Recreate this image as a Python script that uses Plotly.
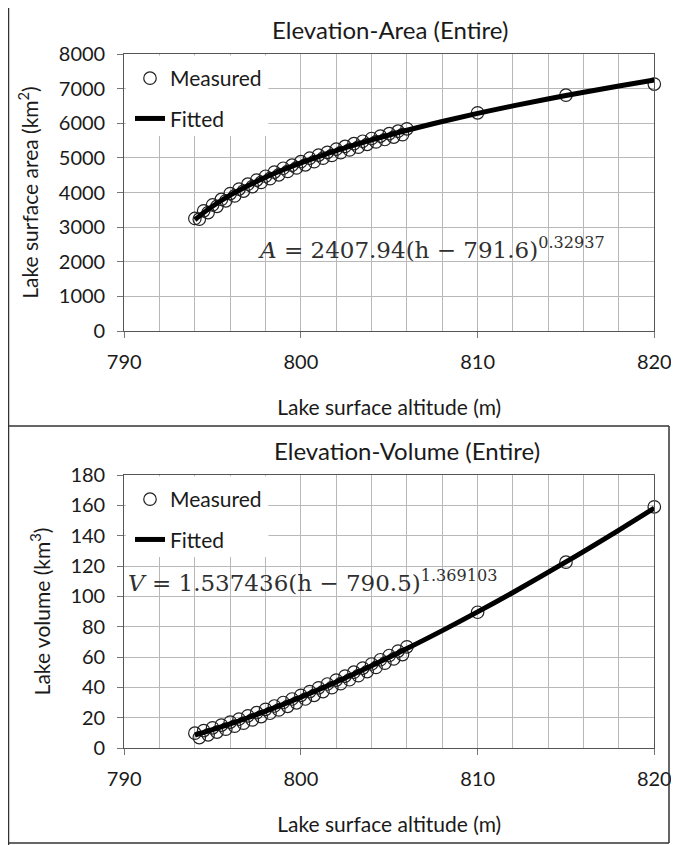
import plotly.graph_objects as go

# ---------------- data ----------------
# Elevation-Area (top panel)
area_meas_h = [794.0, 794.25, 794.5, 794.75, 795.0, 795.25, 795.5, 795.75, 796.0, 796.25,
               796.5, 796.75, 797.0, 797.25, 797.5, 797.75, 798.0, 798.25, 798.5, 798.75,
               799.0, 799.25, 799.5, 799.75, 800.0, 800.25, 800.5, 800.75, 801.0, 801.25,
               801.5, 801.75, 802.0, 802.25, 802.5, 802.75, 803.0, 803.25, 803.5, 803.75,
               804.0, 804.25, 804.5, 804.75, 805.0, 805.25, 805.5, 805.75, 806.0,
               810.0, 815.0, 820.0]
area_meas = [3250, 3230, 3470, 3420, 3640, 3600, 3800, 3760, 3970, 3900,
             4100, 4040, 4240, 4170, 4360, 4290, 4470, 4400, 4590, 4510,
             4700, 4610, 4790, 4710, 4890, 4800, 4990, 4890, 5080, 4990,
             5160, 5070, 5250, 5150, 5330, 5230, 5410, 5310, 5480, 5390,
             5560, 5460, 5630, 5530, 5700, 5600, 5770, 5670, 5840,
             6300, 6810, 7130]
area_fit_h = [794, 794.5, 795, 796, 797, 798, 799, 800, 801, 802, 803, 804, 805, 806,
              808, 810, 812, 815, 818, 820]
area_fit = [3213, 3419, 3603, 3923, 4196, 4438, 4656, 4854, 5037, 5208, 5367, 5518, 5661, 5797,
            6050, 6284, 6501, 6802, 7077, 7250]

# Elevation-Volume (bottom panel)
vol_meas_h = area_meas_h
vol_meas = [9.8, 6.9, 11.5, 8.7, 13.3, 10.5, 15.1, 12.4, 17.1, 14.4,
            19.1, 16.4, 21.2, 18.5, 23.3, 20.7, 25.5, 22.9, 27.7, 25.1,
            30.0, 27.5, 32.3, 29.8, 34.7, 32.3, 37.2, 34.7, 39.7, 37.2,
            42.2, 39.8, 44.8, 42.4, 47.4, 45.0, 50.0, 47.7, 52.7, 50.4,
            55.4, 53.1, 58.2, 55.9, 61.0, 58.7, 63.9, 61.6, 66.7,
            89.5, 122.5, 159.0]
vol_fit_h = area_fit_h
vol_fit = [8.55, 10.26, 12.05, 15.86, 19.94, 24.26, 28.79, 33.53, 38.45, 43.55, 48.81, 54.24,
           59.82, 65.54, 77.38, 89.73, 102.56, 122.67, 143.69, 158.19]

x_ticks = [790, 800, 810, 820]
x_minor = [792, 794, 796, 798, 802, 804, 806, 808, 812, 814, 816, 818]
area_ticks = [0, 1000, 2000, 3000, 4000, 5000, 6000, 7000, 8000]
vol_ticks = [0, 20, 40, 60, 80, 100, 120, 140, 160, 180]

titles = ["Elevation-Area (Entire)", "Elevation-Volume (Entire)"]
x_title = "Lake surface altitude (m)"
y_titles = ["Lake surface area (km<sup>2</sup>)", "Lake volume (km<sup>3</sup>)"]
equations = ["<i>A</i> = 2407.94(h − 791.6)<sup>0.32937</sup>",
             "<i>V</i> = 1.537436(h − 790.5)<sup>1.369103</sup>"]

# ---------------- figure ----------------
# the page adds an 8 px body margin, so the figure is 8 px smaller and
# all target-pixel positions are shifted by 8 px
OFF = 8
W, H = 679 - OFF, 845 - OFF
SANS = "Lato"
TXT = "#1a1a1a"
GRID = "#b8b8b8"


def px(x):
    return (x - OFF) / W


def py(y):
    return 1 - (y - OFF) / H


fig = go.Figure()

marker = dict(symbol="circle-open", size=12.5, color="#222222", line=dict(width=1.2))

fig.add_trace(go.Scatter(x=area_meas_h, y=area_meas, mode="markers", name="Measured",
                         marker=marker, xaxis="x", yaxis="y", legend="legend",
                         legendgroup="m1", cliponaxis=False))
fig.add_trace(go.Scatter(x=area_fit_h, y=area_fit, mode="lines", name="Fitted",
                         line=dict(color="black", width=5, shape="spline"),
                         xaxis="x", yaxis="y", legend="legend", legendgroup="f1"))
fig.add_trace(go.Scatter(x=vol_meas_h, y=vol_meas, mode="markers", name="Measured",
                         marker=marker, xaxis="x2", yaxis="y2", legend="legend2",
                         legendgroup="m2", cliponaxis=False))
fig.add_trace(go.Scatter(x=vol_fit_h, y=vol_fit, mode="lines", name="Fitted",
                         line=dict(color="black", width=5, shape="spline"),
                         xaxis="x2", yaxis="y2", legend="legend2", legendgroup="f2"))

plot_x = [px(124.2), px(654.3)]
top_y = [py(331), py(54)]
bot_y = [py(748), py(475)]


def xaxis(domain, anchor):
    return dict(domain=domain, anchor=anchor, range=[790, 820], tickmode="array",
                tickvals=x_ticks, ticks="outside", ticklen=6, tickcolor="#777",
                ticklabelstandoff=7,
                showgrid=True, gridcolor=GRID, gridwidth=1,
                minor=dict(tickmode="array", tickvals=x_minor, showgrid=True,
                           gridcolor=GRID, gridwidth=1, ticks=""),
                showline=True, linecolor="#555", linewidth=1, mirror=True,
                zeroline=False, automargin=False,
                tickfont=dict(family=SANS, size=20, color=TXT),
                title=dict(text=x_title, font=dict(family=SANS, size=21, color=TXT),
                           standoff=28))


def yaxis(domain, anchor, rng, ticks, title):
    return dict(domain=domain, anchor=anchor, range=rng, tickmode="array", tickvals=ticks,
                ticks="outside", ticklen=6, tickcolor="#777",
                ticklabelstandoff=8,
                showgrid=True, gridcolor=GRID, gridwidth=1,
                showline=True, linecolor="#555", linewidth=1, mirror=True,
                zeroline=False, automargin=False,
                tickfont=dict(family=SANS, size=20, color=TXT),
                title=dict(text=title, font=dict(family=SANS, size=21, color=TXT),
                           standoff=14))


fig.update_layout(
    width=W, height=H,
    margin=dict(l=0, r=0, t=0, b=0),
    paper_bgcolor="white", plot_bgcolor="white",
    xaxis=xaxis(plot_x, "y"),
    yaxis=yaxis(top_y, "x", [0, 8000], area_ticks, y_titles[0]),
    xaxis2=xaxis(plot_x, "y2"),
    yaxis2=yaxis(bot_y, "x2", [0, 180], vol_ticks, y_titles[1]),
    legend=dict(x=px(130), y=py(58), xanchor="left", yanchor="top",
                bgcolor="rgba(0,0,0,0)", traceorder="grouped", tracegroupgap=10,
                font=dict(family=SANS, size=21, color=TXT)),
    legend2=dict(x=px(130), y=py(479), xanchor="left", yanchor="top",
                 bgcolor="rgba(0,0,0,0)", traceorder="grouped", tracegroupgap=10,
                 font=dict(family=SANS, size=21, color=TXT)),
    showlegend=True,
)

# panel titles
fig.add_annotation(text=titles[0], x=px(390), y=py(30), xref="paper", yref="paper",
                   showarrow=False, xanchor="center", yanchor="middle",
                   font=dict(family=SANS, size=24, color=TXT))
fig.add_annotation(text=titles[1], x=px(407), y=py(450), xref="paper", yref="paper",
                   showarrow=False, xanchor="center", yanchor="middle",
                   font=dict(family=SANS, size=24, color=TXT))

# equations
fig.add_annotation(text=equations[0], x=px(256), y=py(248), xref="paper", yref="paper",
                   showarrow=False, xanchor="left", yanchor="middle",
                   font=dict(family="DejaVu Serif", size=23, color="#303030"))
fig.add_annotation(text=equations[1], x=px(126), y=py(581), xref="paper", yref="paper",
                   showarrow=False, xanchor="left", yanchor="middle",
                   font=dict(family="DejaVu Serif", size=23, color="#303030"))

# white legend boxes hiding gridlines
for xr, yr, h_frac in [("x domain", "y domain", 82 / 277), ("x2 domain", "y2 domain", 82 / 273)]:
    fig.add_shape(type="rect", xref=xr, yref=yr, x0=0.003, x1=0.272, y0=1 - h_frac, y1=0.995,
                  fillcolor="white", line=dict(width=0), layer="above")

# page frame lines
frame = dict(color="#333333", width=1.5)
fig.add_shape(type="line", xref="paper", yref="paper", x0=px(8.5), x1=px(8.5), y0=0, y1=1, line=frame)
fig.add_shape(type="line", xref="paper", yref="paper", x0=px(8.5), x1=px(669), y0=py(426), y1=py(426), line=frame)
fig.add_shape(type="line", xref="paper", yref="paper", x0=px(669), x1=px(669), y0=py(426), y1=py(843), line=frame)
fig.add_shape(type="line", xref="paper", yref="paper", x0=px(8.5), x1=px(669), y0=py(843), y1=py(843), line=frame)

fig.write_html("out.html")
